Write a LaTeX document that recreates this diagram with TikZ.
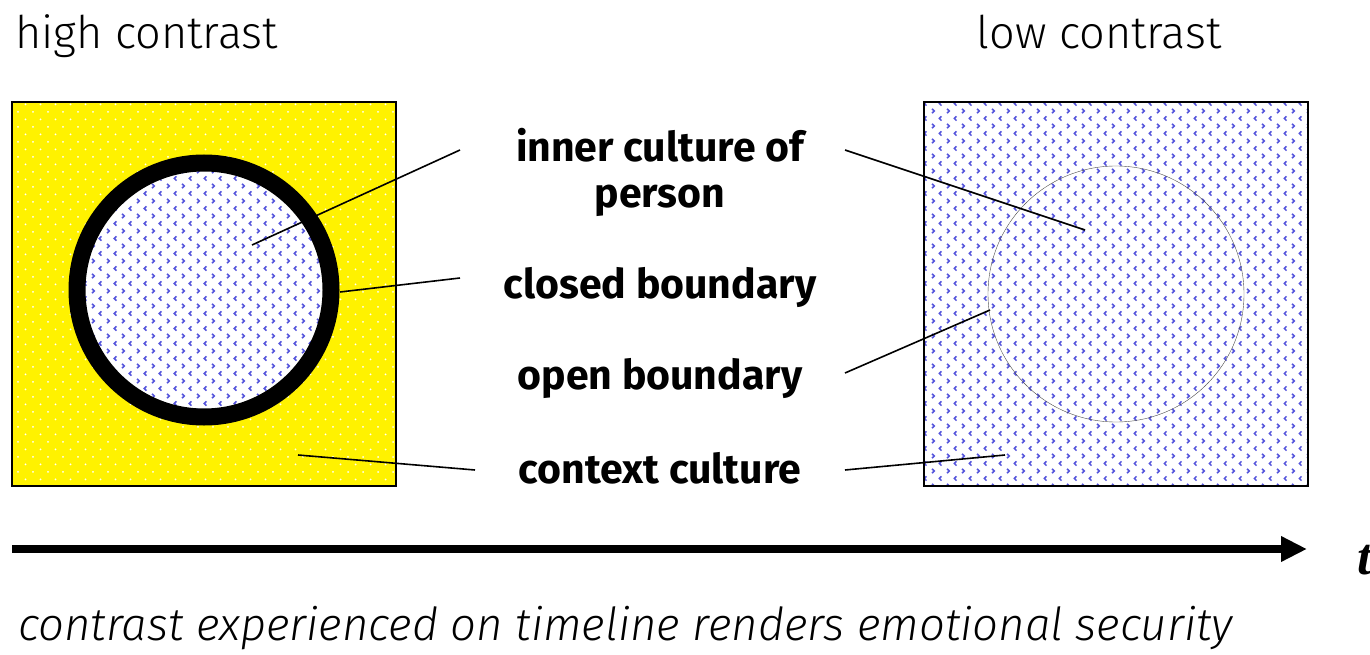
\documentclass[tikz,border=0pt]{standalone}
\usepackage{fontspec}
\setmainfont{Fira Sans}[UprightFont=* Light, ItalicFont=* Light Italic, BoldFont=* Bold]
\newfontfamily\timesfont{Liberation Serif}
\usetikzlibrary{patterns,arrows.meta}

% small blue chevrons on white
\pgfdeclarepatternformonly{chevrons}{\pgfpoint{-1pt}{-1pt}}{\pgfpoint{16pt}{16pt}}{\pgfpoint{15pt}{15pt}}{
  \pgfsetlinewidth{1.5pt}
  \pgfpathmoveto{\pgfpoint{11.5pt}{13.7pt}}\pgfpathlineto{\pgfpoint{9.3pt}{11.5pt}}\pgfpathlineto{\pgfpoint{11.5pt}{9.3pt}}
  \pgfpathmoveto{\pgfpoint{2pt}{6.2pt}}\pgfpathlineto{\pgfpoint{4.2pt}{4pt}}\pgfpathlineto{\pgfpoint{2pt}{1.8pt}}
  \pgfusepath{stroke}
}
% tiny white dots on yellow
\pgfdeclarepatternformonly{sparkdots}{\pgfpoint{-1pt}{-1pt}}{\pgfpoint{16pt}{16pt}}{\pgfpoint{15pt}{15pt}}{
  \pgfpathcircle{\pgfpoint{3pt}{3pt}}{1pt}
  \pgfpathcircle{\pgfpoint{10.5pt}{10.5pt}}{1pt}
  \pgfusepath{fill}
}

\begin{document}
\begin{tikzpicture}[x=1pt,y=-1pt,
  heading/.style={font=\fontsize{45}{48}\selectfont, inner sep=0pt},
  label/.style={font=\fontsize{41}{46}\selectfont\bfseries, inner sep=0pt, align=center},
  pointer/.style={line width=1.6pt},
  panel/.style={line width=1.4pt}]
\useasboundingbox (0,0) rectangle (1370,655);

% headings
\node[heading, anchor=base west] (hi) at (15,49) {high contrast};
\node[heading, anchor=base east] (lo) at (1222,49) {low contrast};

% high-contrast panel
\fill[yellow] (12,102) rectangle (396,486);
\fill[pattern=sparkdots, pattern color=white] (12,102) rectangle (396,486);
\fill[white] (204,290) circle (127);
\fill[pattern=chevrons, pattern color={rgb,255:red,85;green,85;blue,220}] (204,290) circle (127);
\draw[line width=17pt] (204,290) circle (127);
\node[panel, draw, fill=none, minimum size=384pt, inner sep=0pt] (hc) at (204,294) {};

% low-contrast panel
\fill[white] (924,102) rectangle (1308,486);
\fill[pattern=chevrons, pattern color={rgb,255:red,85;green,85;blue,220}] (924,102) rectangle (1308,486);
\draw[line width=0.4pt, black!70] (1116,294) circle (128);
\node[panel, draw, fill=none, minimum size=384pt, inner sep=0pt] (lc) at (1116,294) {};

% labels
\node[label] (inner) at (660,172) {inner culture of\\person};
\node[label] (closed) at (660,287) {closed boundary};
\node[label] (open) at (660,378) {open boundary};
\node[label] (context) at (660,468) {context culture};

% pointer ends
\coordinate (innerL) at (460,150);
\coordinate (innerR) at (845,150);
\coordinate (innerA) at (252,245);
\coordinate (innerB) at (1085,230);
\coordinate (closedL) at (460,278);
\coordinate (closedA) at (340,292);
\coordinate (openR) at (845,373);
\coordinate (openB) at (990,310);
\coordinate (contextL) at (475,470);
\coordinate (contextR) at (845,470);
\coordinate (contextA) at (298,455);
\coordinate (contextB) at (1005,455);

\draw[pointer] (innerL) -- (innerA);
\draw[pointer] (innerR) -- (innerB);
\draw[pointer] (closedL) -- (closedA);
\draw[pointer] (openR) -- (openB);
\draw[pointer] (contextL) -- (contextA);
\draw[pointer] (contextR) -- (contextB);

% time axis
\coordinate (t0) at (12,549);
\coordinate (t1) at (1307,549);
\draw[line width=8pt, -{Triangle[length=26pt,width=24pt]}] (t0) -- (t1);
\node[anchor=base west, inner sep=0pt, font=\fontsize{52}{54}\selectfont\timesfont\bfseries\itshape] (t) at (1357,574) {t};

% caption
\node[anchor=base west, inner sep=0pt, font=\fontsize{45.5}{48}\selectfont\itshape] (cap) at (18,640) {contrast experienced on timeline renders emotional security};
\end{tikzpicture}
\end{document}
